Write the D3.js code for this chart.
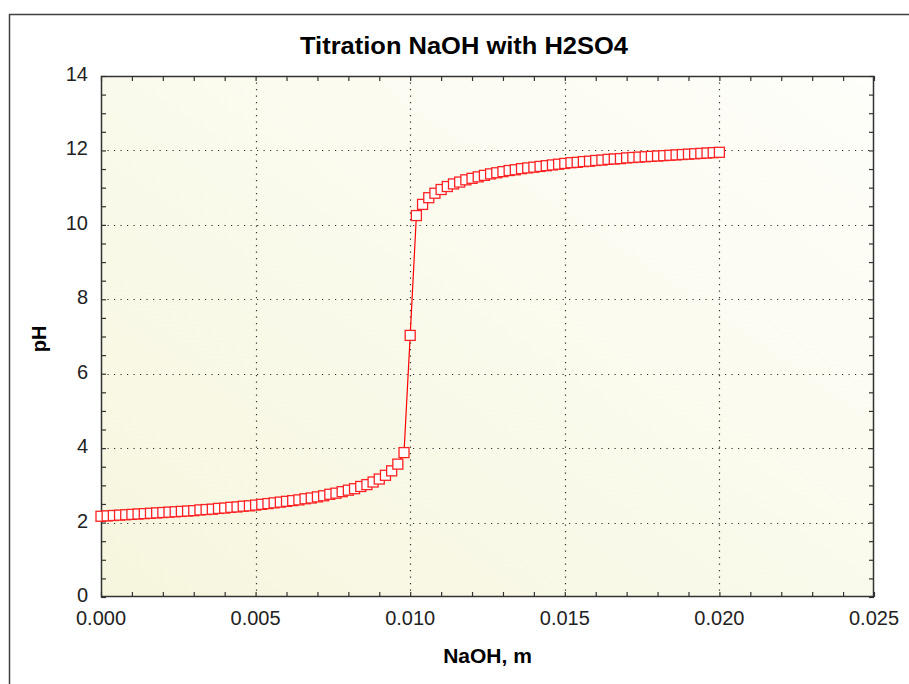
<!DOCTYPE html>
<html>
<head>
<meta charset="utf-8">
<script src="https://cdn.jsdelivr.net/npm/d3@7"></script>
<style>
    body { margin: 0; background: #fff; }
    svg { display: block; }
</style>
</head>
<body>
<div id="chart"></div>
<script>
// NaOH added (m) and resulting pH
var naoh = [
    0.0000, 0.0002, 0.0004, 0.0006, 0.0008, 0.0010, 0.0012, 0.0014, 0.0016, 0.0018,
    0.0020, 0.0022, 0.0024, 0.0026, 0.0028, 0.0030, 0.0032, 0.0034, 0.0036, 0.0038,
    0.0040, 0.0042, 0.0044, 0.0046, 0.0048, 0.0050, 0.0052, 0.0054, 0.0056, 0.0058,
    0.0060, 0.0062, 0.0064, 0.0066, 0.0068, 0.0070, 0.0072, 0.0074, 0.0076, 0.0078,
    0.0080, 0.0082, 0.0084, 0.0086, 0.0088, 0.0090, 0.0092, 0.0094, 0.0096, 0.0098,
    0.0100,
    0.0102, 0.0104, 0.0106, 0.0108, 0.0110, 0.0112, 0.0114, 0.0116, 0.0118, 0.0120,
    0.0122, 0.0124, 0.0126, 0.0128, 0.0130, 0.0132, 0.0134, 0.0136, 0.0138, 0.0140,
    0.0142, 0.0144, 0.0146, 0.0148, 0.0150, 0.0152, 0.0154, 0.0156, 0.0158, 0.0160,
    0.0162, 0.0164, 0.0166, 0.0168, 0.0170, 0.0172, 0.0174, 0.0176, 0.0178, 0.0180,
    0.0182, 0.0184, 0.0186, 0.0188, 0.0190, 0.0192, 0.0194, 0.0196, 0.0198, 0.0200
];
var ph = [
    2.17, 2.18, 2.19, 2.20, 2.21, 2.22, 2.23, 2.24, 2.25, 2.26,
    2.27, 2.28, 2.29, 2.30, 2.31, 2.32, 2.34, 2.35, 2.36, 2.38,
    2.39, 2.41, 2.42, 2.44, 2.45, 2.47, 2.49, 2.51, 2.53, 2.55,
    2.57, 2.59, 2.61, 2.64, 2.66, 2.69, 2.72, 2.76, 2.79, 2.83,
    2.87, 2.91, 2.97, 3.02, 3.09, 3.17, 3.27, 3.39, 3.57, 3.88,
    7.03,
    10.25, 10.55, 10.73, 10.85, 10.95, 11.03, 11.10, 11.15, 11.21, 11.25,
    11.29, 11.33, 11.37, 11.40, 11.43, 11.46, 11.48, 11.51, 11.53, 11.55,
    11.57, 11.59, 11.61, 11.63, 11.65, 11.67, 11.68, 11.70, 11.71, 11.73,
    11.74, 11.76, 11.77, 11.78, 11.80, 11.81, 11.82, 11.83, 11.84, 11.85,
    11.86, 11.87, 11.88, 11.89, 11.90, 11.91, 11.92, 11.93, 11.94, 11.95
];
var xTicks = [0, 0.005, 0.010, 0.015, 0.020, 0.025];
var yTicks = [0, 2, 4, 6, 8, 10, 12, 14];
var title = "Titration NaOH with H2SO4",
    xTitle = "NaOH, m",
    yTitle = "pH";

var W = 909, H = 684,
    plot = { left: 101, top: 76, right: 874, bottom: 597 },
    font = "'Liberation Sans', Arial, sans-serif";

var svg = d3.select("#chart").append("svg")
    .attr("width", W)
    .attr("height", H);

// outer frame
svg.append("rect")
    .attr("x", 9.5).attr("y", 14.5)
    .attr("width", W + 10).attr("height", H + 10)
    .attr("fill", "#fff")
    .attr("stroke", "#404040")
    .attr("stroke-width", 1.5);

var grad = svg.append("defs").append("linearGradient")
    .attr("id", "bg")
    .attr("x1", 0).attr("y1", 1).attr("x2", 1).attr("y2", 0);
grad.append("stop").attr("offset", "0%").attr("stop-color", "#f6f6de");
grad.append("stop").attr("offset", "100%").attr("stop-color", "#fefefa");

var x = d3.scaleLinear().domain([0, 0.025]).range([plot.left, plot.right]),
    y = d3.scaleLinear().domain([0, 14]).range([plot.bottom, plot.top]);

svg.append("rect")
    .attr("x", plot.left).attr("y", plot.top)
    .attr("width", plot.right - plot.left)
    .attr("height", plot.bottom - plot.top)
    .attr("fill", "url(#bg)");

// dotted grid
var grid = svg.append("g")
    .attr("stroke", "#333")
    .attr("stroke-width", 1.2)
    .attr("stroke-dasharray", "1.2,5.3");
grid.selectAll(".gx")
    .data(xTicks.slice(1, -1))
    .enter().append("line")
    .attr("x1", function(d) { return Math.round(x(d)) + 0.5; })
    .attr("x2", function(d) { return Math.round(x(d)) + 0.5; })
    .attr("y1", plot.top).attr("y2", plot.bottom);
grid.selectAll(".gy")
    .data(yTicks.slice(1, -1))
    .enter().append("line")
    .attr("y1", function(d) { return Math.round(y(d)) + 0.5; })
    .attr("y2", function(d) { return Math.round(y(d)) + 0.5; })
    .attr("x1", plot.left).attr("x2", plot.right);

// inward ticks on all four sides
var tickLen = 5,
    xMinor = d3.range(0, 26).map(function(i) { return i * 0.001; }),
    yMinor = d3.range(0, 29).map(function(i) { return i * 0.5; });

function axisStyle(g) {
    g.select(".domain").remove();
    g.selectAll("line").attr("stroke", "#333").attr("stroke-width", 1.2);
    g.selectAll("text").remove();
}

svg.append("g")
    .attr("transform", "translate(0," + plot.bottom + ")")
    .call(d3.axisTop(x).tickValues(xMinor).tickSize(tickLen))
    .call(axisStyle);
svg.append("g")
    .attr("transform", "translate(0," + plot.top + ")")
    .call(d3.axisBottom(x).tickValues(xMinor).tickSize(tickLen))
    .call(axisStyle);
svg.append("g")
    .attr("transform", "translate(" + plot.left + ",0)")
    .call(d3.axisRight(y).tickValues(yMinor).tickSize(tickLen))
    .call(axisStyle);
svg.append("g")
    .attr("transform", "translate(" + plot.right + ",0)")
    .call(d3.axisLeft(y).tickValues(yMinor).tickSize(tickLen))
    .call(axisStyle);

svg.append("rect")
    .attr("x", plot.left + 0.5).attr("y", plot.top + 0.5)
    .attr("width", plot.right - plot.left - 1)
    .attr("height", plot.bottom - plot.top - 1)
    .attr("fill", "none")
    .attr("stroke", "#333")
    .attr("stroke-width", 1.5);

// tick labels
svg.append("g").selectAll("text")
    .data(xTicks)
    .enter().append("text")
    .attr("x", function(d) { return x(d); })
    .attr("y", plot.bottom + 28)
    .attr("text-anchor", "middle")
    .attr("font-family", font)
    .attr("font-size", 20)
    .attr("fill", "#222")
    .text(d3.format(".3f"));

svg.append("g").selectAll("text")
    .data(yTicks)
    .enter().append("text")
    .attr("x", plot.left - 13)
    .attr("y", function(d) { return y(d) + 5; })
    .attr("text-anchor", "end")
    .attr("font-family", font)
    .attr("font-size", 20)
    .attr("fill", "#222")
    .text(function(d) { return d; });

// titles
svg.append("text")
    .attr("x", 464).attr("y", 54)
    .attr("text-anchor", "middle")
    .attr("font-family", font)
    .attr("font-weight", "bold")
    .attr("font-size", 24)
    .attr("textLength", 328)
    .attr("lengthAdjust", "spacingAndGlyphs")
    .text(title);

svg.append("text")
    .attr("x", (plot.left + plot.right) / 2).attr("y", 663)
    .attr("text-anchor", "middle")
    .attr("font-family", font)
    .attr("font-weight", "bold")
    .attr("font-size", 21)
    .text(xTitle);

svg.append("text")
    .attr("transform", "translate(46,339) rotate(-90)")
    .attr("text-anchor", "middle")
    .attr("font-family", font)
    .attr("font-weight", "bold")
    .attr("font-size", 20)
    .text(yTitle);

// titration curve
var pts = naoh.map(function(d, i) { return [d, ph[i]]; });

svg.append("path")
    .datum(pts)
    .attr("fill", "none")
    .attr("stroke", "#f00")
    .attr("stroke-width", 1.2)
    .attr("d", d3.line()
        .x(function(d) { return x(d[0]); })
        .y(function(d) { return y(d[1]); }));

var ms = 10;
svg.append("g").selectAll("rect")
    .data(pts)
    .enter().append("rect")
    .attr("x", function(d) { return x(d[0]) - ms / 2; })
    .attr("y", function(d) { return y(d[1]) - ms / 2; })
    .attr("width", ms).attr("height", ms)
    .attr("fill", "#fff")
    .attr("stroke", "#f22")
    .attr("stroke-width", 1.3);
</script>
</body>
</html>
